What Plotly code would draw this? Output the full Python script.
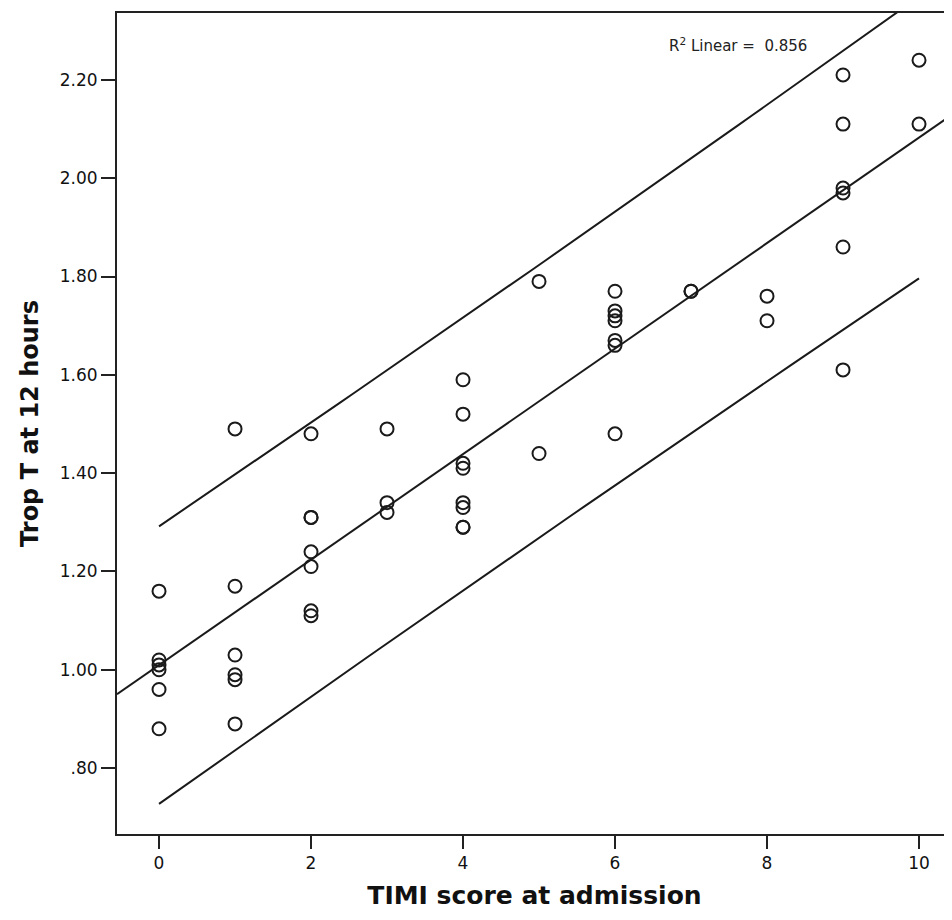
import numpy as np
import plotly.graph_objects as go

# ---- data ----
timi_score = [0, 0, 0, 0, 0, 0,
              1, 1, 1, 1, 1, 1,
              2, 2, 2, 2, 2, 2, 2,
              3, 3, 3,
              4, 4, 4, 4, 4, 4, 4, 4,
              5, 5,
              6, 6, 6, 6, 6, 6, 6,
              7, 7,
              8, 8,
              9, 9, 9, 9, 9, 9,
              10, 10]
trop_t_12h = [1.16, 1.02, 1.01, 1.00, 0.96, 0.88,
              1.49, 1.17, 1.03, 0.99, 0.98, 0.89,
              1.48, 1.31, 1.31, 1.24, 1.21, 1.12, 1.11,
              1.49, 1.34, 1.32,
              1.59, 1.52, 1.42, 1.41, 1.34, 1.33, 1.29, 1.29,
              1.79, 1.44,
              1.77, 1.73, 1.72, 1.71, 1.67, 1.66, 1.48,
              1.77, 1.77,
              1.76, 1.71,
              2.21, 2.11, 1.98, 1.97, 1.86, 1.61,
              2.24, 2.11]

x_tick_vals = [0, 2, 4, 6, 8, 10]
y_tick_vals = [0.80, 1.00, 1.20, 1.40, 1.60, 1.80, 2.00, 2.20]
y_tick_text = [".80", "1.00", "1.20", "1.40", "1.60", "1.80", "2.00", "2.20"]
r2_label = "R<sup>2</sup> Linear =  0.856"

x_range = [-0.553, 10.434]
y_range = [0.666, 2.336]

# ---- linear fit and 95% individual prediction interval ----
x = np.array(timi_score, dtype=float)
y = np.array(trop_t_12h, dtype=float)
n = len(x)
slope, intercept = np.polyfit(x, y, 1)
resid = y - (intercept + slope * x)
s = np.sqrt(np.sum(resid ** 2) / (n - 2))
xbar = x.mean()
sxx = np.sum((x - xbar) ** 2)
t_crit = 2.0096  # t(0.975, df=49)

fit_x = np.linspace(x_range[0], x_range[1], 60)
fit_y = intercept + slope * fit_x
pi_x = np.linspace(x.min(), x.max(), 60)
pi_c = intercept + slope * pi_x
pi_h = t_crit * s * np.sqrt(1 + 1 / n + (pi_x - xbar) ** 2 / sxx)

line_col = "#1a1a1a"
fig = go.Figure()
fig.add_trace(go.Scatter(x=fit_x, y=fit_y, mode="lines",
                         line=dict(color=line_col, width=2), hoverinfo="skip"))
fig.add_trace(go.Scatter(x=pi_x, y=pi_c + pi_h, mode="lines",
                         line=dict(color=line_col, width=2), hoverinfo="skip"))
fig.add_trace(go.Scatter(x=pi_x, y=pi_c - pi_h, mode="lines",
                         line=dict(color=line_col, width=2), hoverinfo="skip"))
fig.add_trace(go.Scatter(x=timi_score, y=trop_t_12h, mode="markers",
                         marker=dict(symbol="circle-open", size=13,
                                     color=line_col, line=dict(width=2, color=line_col)),
                         cliponaxis=False))

fig.add_annotation(x=6.68, y=2.27, xref="x", yref="y", text=r2_label,
                   showarrow=False, xanchor="left", yanchor="middle",
                   font=dict(family="DejaVu Sans", size=15, color="#222"))

fig.update_layout(
    width=944, height=912,
    margin=dict(l=109, r=0, t=5, b=86),
    paper_bgcolor="white", plot_bgcolor="white",
    showlegend=False,
    font=dict(family="DejaVu Sans", color="#111"),
)
fig.update_xaxes(
    range=x_range, tickvals=x_tick_vals,
    showgrid=False, zeroline=False,
    showline=True, linecolor="#222", linewidth=2, mirror=True,
    ticks="outside", ticklen=13, tickwidth=2, tickcolor="#222",
    tickfont=dict(family="DejaVu Sans", size=17, color="#111"),
    title=dict(text="<b>TIMI score at admission</b>", standoff=14,
               font=dict(family="DejaVu Sans", size=25, color="#111")),
)
fig.update_yaxes(
    range=y_range, tickvals=y_tick_vals, ticktext=y_tick_text,
    showgrid=False, zeroline=False,
    showline=True, linecolor="#222", linewidth=2, mirror=False,
    ticks="outside", ticklen=14, tickwidth=2, tickcolor="#222",
    tickfont=dict(family="DejaVu Sans", size=17, color="#111"),
    title=dict(text="<b>Trop T at 12 hours</b>", standoff=14,
               font=dict(family="DejaVu Sans", size=24, color="#111")),
)

fig.write_html("out.html")
